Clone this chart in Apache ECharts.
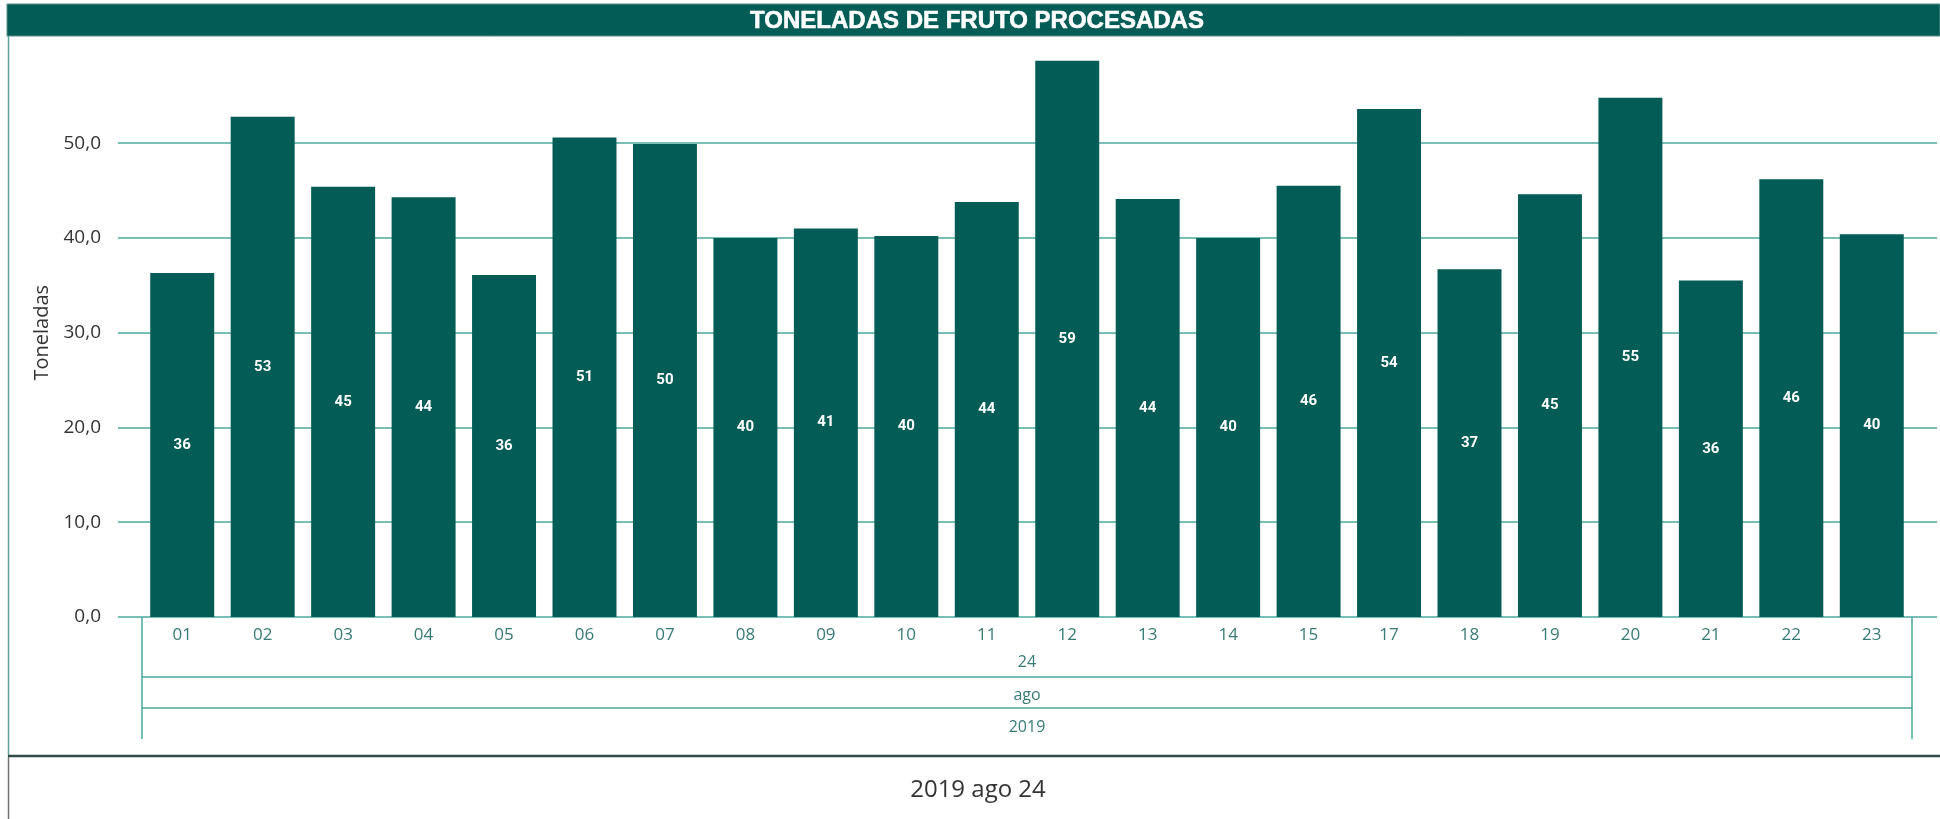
<!DOCTYPE html>
<html>
<head>
<meta charset="utf-8">
<title>Toneladas de fruto procesadas</title>
<script src="https://cdn.jsdelivr.net/npm/echarts@6/dist/echarts.min.js"></script>
<style>
  html, body { margin: 0; padding: 0; background: #ffffff; }
  #chart { width: 1940px; height: 819px; }
</style>
</head>
<body>
<div id="chart"></div>
<script>
// Días de agosto 2019 (semana 24)
const days = ['01', '02', '03', '04', '05', '06', '07', '08', '09', '10', '11',
              '12', '13', '14', '15', '17', '18', '19', '20', '21', '22', '23'];
// Toneladas procesadas por día
const tons = [36.3, 52.8, 45.4, 44.3, 36.1, 50.6, 49.9, 40.0, 41.0, 40.2, 43.8,
              58.7, 44.1, 40.0, 45.5, 53.6, 36.7, 44.6, 54.8, 35.5, 46.2, 40.4];
// Niveles superiores de la jerarquía de fechas
const weekLevel = ['24'];
const monthLevel = ['ago'];
const yearLevel = ['2019'];
const yTicks = { min: 0, max: 60, step: 10 };

const title = 'TONELADAS DE FRUTO PROCESADAS';
const cardText = '2019 ago 24';

const BAR = '#035c55';
const LINE = '#4aa9a0';
const AXIS_TEXT = '#377a75';
const DARK_TEXT = '#333333';
const SANS = '"Open Sans", "Noto Sans", sans-serif';

const chart = echarts.init(document.getElementById('chart'));

const hierarchyAxis = (data, offset, opts) => ({
  gridIndex: 0,
  type: 'category',
  position: 'bottom',
  offset: offset,
  data: data,
  boundaryGap: true,
  axisLine: { show: opts.line, lineStyle: { color: LINE, width: 1.5 } },
  axisTick: { show: true, inside: opts.tickInside, length: opts.tickLen,
              lineStyle: { color: LINE, width: 1.5 } },
  axisLabel: { inside: opts.labelInside, margin: opts.margin, color: AXIS_TEXT,
               fontFamily: SANS, fontSize: 16 },
  splitLine: { show: false }
});

chart.setOption({
  animation: false,
  backgroundColor: '#ffffff',
  grid: [
    { left: 142, right: 28, top: 48.4, bottom: 202 },
    { left: 118, right: 3, top: 48.4, bottom: 202 }
  ],
  xAxis: [
    {
      gridIndex: 0,
      type: 'category',
      data: days,
      axisLine: { show: false },
      axisTick: { show: false },
      axisLabel: { color: AXIS_TEXT, fontFamily: SANS, fontSize: 17, margin: 10 },
      splitLine: { show: false }
    },
    hierarchyAxis(weekLevel, 60, { line: true, tickInside: true, tickLen: 60, labelInside: true, margin: 7 }),
    hierarchyAxis(monthLevel, 91, { line: true, tickInside: true, tickLen: 31, labelInside: true, margin: 5 }),
    hierarchyAxis(yearLevel, 91, { line: false, tickInside: false, tickLen: 31, labelInside: false, margin: 11 }),
    { gridIndex: 1, type: 'value', show: false }
  ],
  yAxis: [
    { gridIndex: 0, type: 'value', min: yTicks.min, max: yTicks.max, interval: yTicks.step, show: false },
    {
      gridIndex: 1,
      type: 'value',
      min: yTicks.min,
      max: yTicks.max,
      interval: yTicks.step,
      name: 'Toneladas',
      nameLocation: 'middle',
      nameRotate: 90,
      nameGap: 65,
      nameTextStyle: { color: DARK_TEXT, fontFamily: SANS, fontSize: 20 },
      axisLine: { show: false },
      axisTick: { show: false },
      axisLabel: {
        color: DARK_TEXT, fontFamily: SANS, fontSize: 19, margin: 17,
        showMaxLabel: false,
        formatter: v => v.toFixed(1).replace('.', ',')
      },
      splitLine: { show: true, showMaxLine: false, lineStyle: { color: LINE, width: 1.5 } }
    }
  ],
  series: [{
    type: 'bar',
    xAxisIndex: 0,
    yAxisIndex: 0,
    data: tons,
    barCategoryGap: '20.5%',
    itemStyle: { color: BAR },
    label: {
      show: true,
      position: 'inside',
      color: '#ffffff',
      fontFamily: 'Roboto, sans-serif',
      fontWeight: 'bold',
      fontSize: 15,
      formatter: p => Math.round(p.value).toString()
    }
  }],
  graphic: [
    // banda del título
    { type: 'rect', shape: { x: 7, y: 4, width: 1933, height: 32 },
      style: { fill: BAR, stroke: '#5e8f8b', lineWidth: 1 }, z: 10 },
    { type: 'text', x: 977, y: 21, z: 11,
      style: { text: title, fill: '#ffffff', stroke: '#ffffff', lineWidth: 0.6,
               font: 'bold 24px "Liberation Sans", Arial, sans-serif',
               textAlign: 'center', textVerticalAlign: 'middle' } },
    // marco izquierdo del gráfico
    { type: 'line', shape: { x1: 8.5, y1: 36, x2: 8.5, y2: 756 },
      style: { stroke: '#5fa39d', lineWidth: 1.5 }, z: 10 },
    // separador y tarjeta inferior
    { type: 'line', shape: { x1: 8, y1: 756, x2: 1940, y2: 756 },
      style: { stroke: '#2d4a47', lineWidth: 2.5 }, z: 10 },
    { type: 'line', shape: { x1: 8.5, y1: 757, x2: 8.5, y2: 819 },
      style: { stroke: '#707070', lineWidth: 1.5 }, z: 10 },
    { type: 'text', x: 978, y: 790, z: 11,
      style: { text: cardText, fill: DARK_TEXT, font: '24px "Open Sans", sans-serif',
               textAlign: 'center', textVerticalAlign: 'middle' } }
  ]
});
</script>
</body>
</html>
